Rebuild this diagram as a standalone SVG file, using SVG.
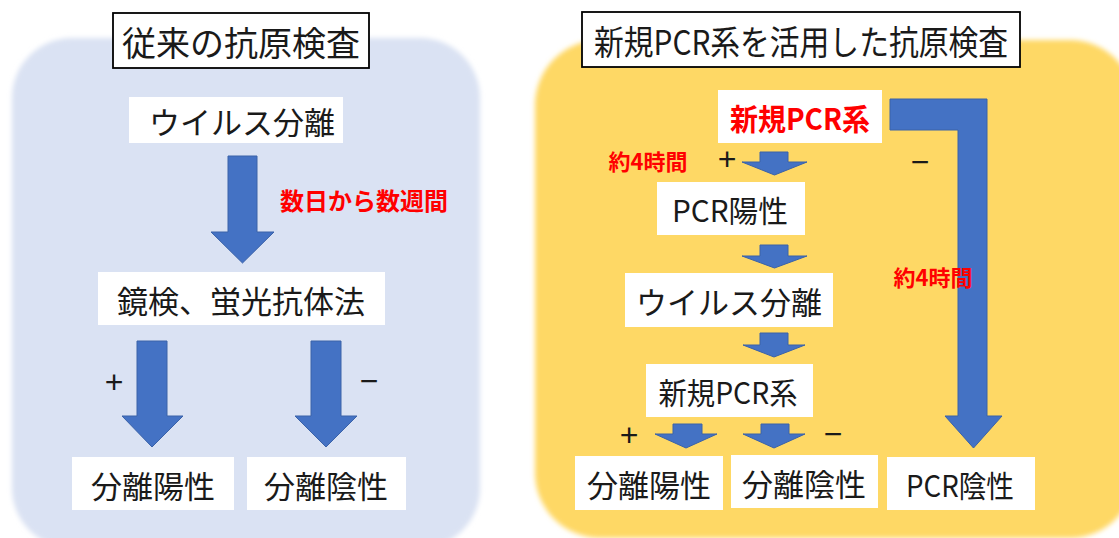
<svg xmlns="http://www.w3.org/2000/svg" width="1119" height="538" viewBox="0 0 1119 538">
<defs>
<filter id="soft" x="-5%" y="-5%" width="110%" height="110%"><feGaussianBlur stdDeviation="2.5"/></filter>
<style>
.box{fill:#ffffff;}
.tbox{fill:#ffffff;stroke:#000000;stroke-width:1.8;}
.t{font-family:"Noto Sans CJK JP","Noto Sans",sans-serif;fill:#1a1a1a;text-anchor:middle;dominant-baseline:central;}
.red{font-family:"Noto Sans CJK JP","Noto Sans",sans-serif;fill:#ff0000;font-weight:bold;text-anchor:middle;dominant-baseline:central;}
.arr{fill:#4472c4;stroke:#3a62a8;stroke-width:1;}
.sign{font-family:"Liberation Sans","DejaVu Sans",sans-serif;fill:#1a1a1a;font-size:32px;text-anchor:middle;dominant-baseline:central;}
</style>
</defs>
<rect x="12" y="38" width="468" height="510" rx="60" fill="#dae2f3" filter="url(#soft)"/>
<rect x="535" y="40" width="600" height="498" rx="65" fill="#fed865" filter="url(#soft)"/>

<g id="left-title"><rect class="tbox" x="113" y="13" width="256" height="55"/><text class="t" x="241" y="41" font-size="34">従来の抗原検査</text></g>
<g id="right-title"><rect class="tbox" x="582" y="12" width="438" height="55"/><text class="t" x="801" y="40" font-size="34" textLength="414" lengthAdjust="spacingAndGlyphs">新規PCR系を活用した抗原検査</text></g>

<g id="connectors">
<polygon class="arr" points="228,156 257,156 257,232 274,232 242.5,263 211,232 228,232"/>
<polygon class="arr" points="137,341 167,341 167,416 183,416 152,447 122,416 137,416"/>
<polygon class="arr" points="311,341 341,341 341,416 357,416 326,447 295,416 311,416"/>
<polygon class="arr" points="890,99 987,99 987,416 1002,416 973.5,448 945,416 958,416 958,130 890,130"/>
<polygon class="arr" points="760,152 788,152 788,162 807,162 774.5,175 742,162 760,162"/>
<polygon class="arr" points="760,245 788,245 788,256 807,256 774.5,268 742,256 760,256"/>
<polygon class="arr" points="760,333 788,333 788,345 805,345 774,357 743,345 760,345"/>
<polygon class="arr" points="673,424 702,424 702,434 717,434 686,448 655,434 673,434"/>
<polygon class="arr" points="761,424 789,424 789,434 805,434 774,448 743,434 761,434"/>
</g>

<g id="labels">
<text class="red" x="364" y="199" font-size="24">数日から数週間</text>
<text class="sign" x="114" y="382">+</text>
<text class="sign" x="369" y="381">−</text>
<text class="red" x="648" y="160" font-size="22">約4時間</text>
<text class="sign" x="727" y="159">+</text>
<text class="sign" x="920" y="162">−</text>
<text class="red" x="933" y="276" font-size="22">約4時間</text>
<text class="sign" x="629" y="435">+</text>
<text class="sign" x="833" y="434">−</text>
</g>

<g id="l-virus"><rect class="box" x="129" y="97" width="214" height="46"/><text class="t" x="242" y="120" font-size="31">ウイルス分離</text></g>
<g id="l-kyoken"><rect class="box" x="98" y="272" width="287" height="53"/><text class="t" x="241" y="299" font-size="31">鏡検、蛍光抗体法</text></g>
<g id="l-pos"><rect class="box" x="72" y="457" width="162" height="53"/><text class="t" x="153" y="484" font-size="31">分離陽性</text></g>
<g id="l-neg"><rect class="box" x="247" y="457" width="159" height="53"/><text class="t" x="326" y="484" font-size="31">分離陰性</text></g>

<g id="r-pcr"><rect class="box" x="718" y="90" width="164" height="53"/><text class="red" x="800" y="117" font-size="30" textLength="140" lengthAdjust="spacingAndGlyphs">新規PCR系</text></g>
<g id="r-pcrpos"><rect class="box" x="657" y="182" width="148" height="53"/><text class="t" x="730" y="209" font-size="30" textLength="116" lengthAdjust="spacingAndGlyphs">PCR陽性</text></g>
<g id="r-virus"><rect class="box" x="625" y="273" width="208" height="54"/><text class="t" x="729" y="300" font-size="31">ウイルス分離</text></g>
<g id="r-pcr2"><rect class="box" x="646" y="364" width="167" height="53"/><text class="t" x="728" y="391" font-size="30" textLength="139" lengthAdjust="spacingAndGlyphs">新規PCR系</text></g>
<g id="r-pos"><rect class="box" x="575" y="456" width="148" height="54"/><text class="t" x="649" y="483" font-size="31">分離陽性</text></g>
<g id="r-neg"><rect class="box" x="731" y="455" width="147" height="53"/><text class="t" x="804" y="482" font-size="31">分離陰性</text></g>
<g id="r-pcrneg"><rect class="box" x="887" y="457" width="148" height="53"/><text class="t" x="960" y="484" font-size="30" textLength="108" lengthAdjust="spacingAndGlyphs">PCR陰性</text></g>
</svg>
